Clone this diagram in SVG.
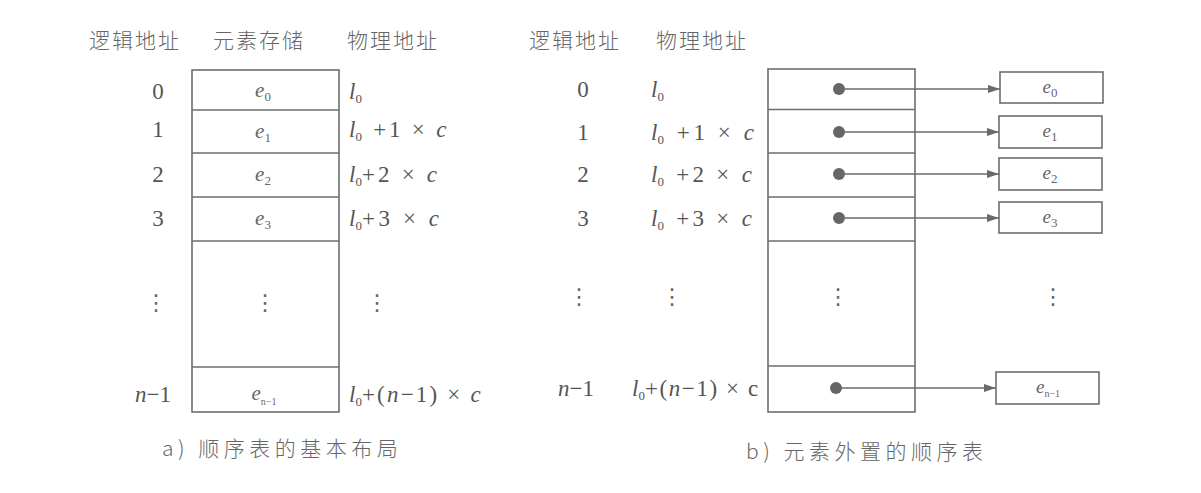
<svg xmlns="http://www.w3.org/2000/svg" width="1201" height="493" viewBox="0 0 1201 493">
<style>
.bg{fill:#ffffff}
.box{fill:#ffffff;stroke:#6e6e6e;stroke-width:1.6}
.row{stroke:#6e6e6e;stroke-width:1.6}
.cn{font-family:"Noto Sans CJK SC",sans-serif;font-size:21px;font-weight:300;fill:#666666;letter-spacing:2px}
.cap{font-family:"Noto Sans CJK SC",sans-serif;font-size:21px;font-weight:300;fill:#666666;letter-spacing:4.5px}
.m{font-family:"Liberation Serif",serif;font-size:23px;fill:#555555}
.i{font-style:italic}
.s{font-size:13px}
.z{letter-spacing:0}
.el{font-family:"Liberation Serif",serif;font-size:21px;fill:#666666;text-anchor:middle}
.el2{font-family:"Liberation Serif",serif;font-size:19px;fill:#666666;text-anchor:middle}
.ss{font-size:10px}
.dots{font-family:"DejaVu Sans",sans-serif;font-size:22px;fill:#666666;text-anchor:middle}
.dot{fill:#666666}
.arr{stroke:#6a6a6a;stroke-width:1.4;fill:none}
</style>
<defs>
<marker id="ah" viewBox="0 0 12 8" refX="12" refY="4" markerWidth="12" markerHeight="8" markerUnits="userSpaceOnUse" orient="auto">
<path d="M0,0 L12,4 L0,8 Z" fill="#6a6a6a"/>
</marker>
</defs>
<rect class="bg" x="0" y="0" width="1201" height="493"/>

<!-- Part a -->
<g id="headers-a">
<text class="cn" x="89" y="48">逻辑地址</text>
<text class="cn" x="213" y="48">元素存储</text>
<text class="cn" x="347" y="48">物理地址</text>
</g>

<g id="table-a">
<rect class="box" x="192" y="70" width="147" height="342"/>
<line class="row" x1="192" y1="110" x2="339" y2="110"/>
<line class="row" x1="192" y1="153" x2="339" y2="153"/>
<line class="row" x1="192" y1="197" x2="339" y2="197"/>
<line class="row" x1="192" y1="241" x2="339" y2="241"/>
<line class="row" x1="192" y1="367" x2="339" y2="367"/>
<text class="el" x="263" y="97"><tspan class="i">e</tspan><tspan class="s" dy="4">0</tspan></text>
<text class="el" x="263" y="138"><tspan class="i">e</tspan><tspan class="s" dy="4">1</tspan></text>
<text class="el" x="263" y="181"><tspan class="i">e</tspan><tspan class="s" dy="4">2</tspan></text>
<text class="el" x="263" y="225"><tspan class="i">e</tspan><tspan class="s" dy="4">3</tspan></text>
<text class="dots" x="265" y="310">⋮</text>
<text class="el" x="264" y="400"><tspan class="i">e</tspan><tspan class="ss" dy="5">n−1</tspan></text>
</g>

<g id="index-a">
<text class="m" x="158" y="99" text-anchor="middle">0</text>
<text class="m" x="158" y="137" text-anchor="middle">1</text>
<text class="m" x="158" y="182" text-anchor="middle">2</text>
<text class="m" x="158" y="226" text-anchor="middle">3</text>
<text class="dots" x="156" y="310">⋮</text>
<text class="m" x="135" y="402"><tspan class="i">n</tspan>−1</text>
</g>

<g id="phys-a">
<text class="m" x="349" y="99"><tspan class="i">l</tspan><tspan class="s" dy="4">0</tspan></text>
<text class="m" x="349" y="137" style="letter-spacing:2.8px"><tspan class="i z">l</tspan><tspan class="s" dy="4">0</tspan><tspan dy="-4"> +1 × </tspan><tspan class="i">c</tspan></text>
<text class="m" x="349" y="182" style="letter-spacing:3.2px"><tspan class="i z">l</tspan><tspan class="s z" dy="4">0</tspan><tspan dy="-4">+2 × </tspan><tspan class="i">c</tspan></text>
<text class="m" x="349" y="226" style="letter-spacing:3.6px"><tspan class="i z">l</tspan><tspan class="s z" dy="4">0</tspan><tspan dy="-4">+3 × </tspan><tspan class="i">c</tspan></text>
<text class="dots" x="377" y="310">⋮</text>
<text class="m" x="349" y="402" style="letter-spacing:2.2px"><tspan class="i z">l</tspan><tspan class="s z" dy="4">0</tspan><tspan dy="-4">+(</tspan><tspan class="i">n</tspan>−1) × <tspan class="i">c</tspan></text>
</g>

<text id="caption-a" class="cap" x="162" y="456">a) 顺序表的基本布局</text>

<!-- Part b -->
<g id="headers-b">
<text class="cn" x="529" y="48">逻辑地址</text>
<text class="cn" x="656" y="48">物理地址</text>
</g>

<g id="index-b">
<text class="m" x="583" y="97" text-anchor="middle">0</text>
<text class="m" x="583" y="140" text-anchor="middle">1</text>
<text class="m" x="583" y="182" text-anchor="middle">2</text>
<text class="m" x="583" y="226" text-anchor="middle">3</text>
<text class="dots" x="579" y="304">⋮</text>
<text class="m" x="558" y="396"><tspan class="i">n</tspan>−1</text>
</g>

<g id="phys-b">
<text class="m" x="651" y="97"><tspan class="i">l</tspan><tspan class="s" dy="4">0</tspan></text>
<text class="m" x="651" y="140" style="letter-spacing:3.6px"><tspan class="i z">l</tspan><tspan class="s" dy="4">0</tspan><tspan dy="-4"> +1 × </tspan><tspan class="i">c</tspan></text>
<text class="m" x="651" y="182" style="letter-spacing:3.3px"><tspan class="i z">l</tspan><tspan class="s" dy="4">0</tspan><tspan dy="-4"> +2 × </tspan><tspan class="i">c</tspan></text>
<text class="m" x="651" y="226" style="letter-spacing:3.3px"><tspan class="i z">l</tspan><tspan class="s" dy="4">0</tspan><tspan dy="-4"> +3 × </tspan><tspan class="i">c</tspan></text>
<text class="dots" x="672" y="304">⋮</text>
<text class="m" x="632" y="396" style="letter-spacing:1.6px"><tspan class="i z">l</tspan><tspan class="s z" dy="4">0</tspan><tspan dy="-4">+(</tspan><tspan class="i">n</tspan>−1) × c</text>
</g>

<g id="table-b">
<rect class="box" x="768" y="69" width="147" height="343"/>
<line class="row" x1="768" y1="109.5" x2="915" y2="109.5"/>
<line class="row" x1="768" y1="153" x2="915" y2="153"/>
<line class="row" x1="768" y1="197" x2="915" y2="197"/>
<line class="row" x1="768" y1="241" x2="915" y2="241"/>
<line class="row" x1="768" y1="366" x2="915" y2="366"/>
<circle class="dot" cx="839" cy="89" r="6"/>
<circle class="dot" cx="839" cy="132" r="6"/>
<circle class="dot" cx="839" cy="174" r="6"/>
<circle class="dot" cx="839" cy="218" r="6"/>
<circle class="dot" cx="836" cy="388" r="6"/>
<text class="dots" x="838" y="304">⋮</text>
</g>

<g id="elem-e0"><rect class="box" x="1000" y="72" width="103" height="31"/><text class="el2" x="1050" y="93"><tspan class="i">e</tspan><tspan class="s" dy="4">0</tspan></text></g>
<g id="elem-e1"><rect class="box" x="999" y="116" width="103" height="32"/><text class="el2" x="1050" y="137"><tspan class="i">e</tspan><tspan class="s" dy="4">1</tspan></text></g>
<g id="elem-e2"><rect class="box" x="999" y="158" width="103" height="32"/><text class="el2" x="1050" y="179"><tspan class="i">e</tspan><tspan class="s" dy="4">2</tspan></text></g>
<g id="elem-e3"><rect class="box" x="999" y="202" width="103" height="31"/><text class="el2" x="1050" y="223"><tspan class="i">e</tspan><tspan class="s" dy="4">3</tspan></text></g>
<text class="dots" x="1053" y="304">⋮</text>
<g id="elem-en1"><rect class="box" x="996" y="372" width="103" height="32"/><text class="el2" x="1048" y="393"><tspan class="i">e</tspan><tspan class="ss" dy="4">n−1</tspan></text></g>

<g id="connectors">
<line class="arr" x1="839" y1="89" x2="1000" y2="89" marker-end="url(#ah)"/>
<line class="arr" x1="839" y1="132" x2="999" y2="132" marker-end="url(#ah)"/>
<line class="arr" x1="839" y1="174" x2="999" y2="174" marker-end="url(#ah)"/>
<line class="arr" x1="839" y1="218" x2="999" y2="218" marker-end="url(#ah)"/>
<line class="arr" x1="836" y1="388" x2="996" y2="388" marker-end="url(#ah)"/>
</g>

<text id="caption-b" class="cap" x="746" y="459">b) 元素外置的顺序表</text>
</svg>
